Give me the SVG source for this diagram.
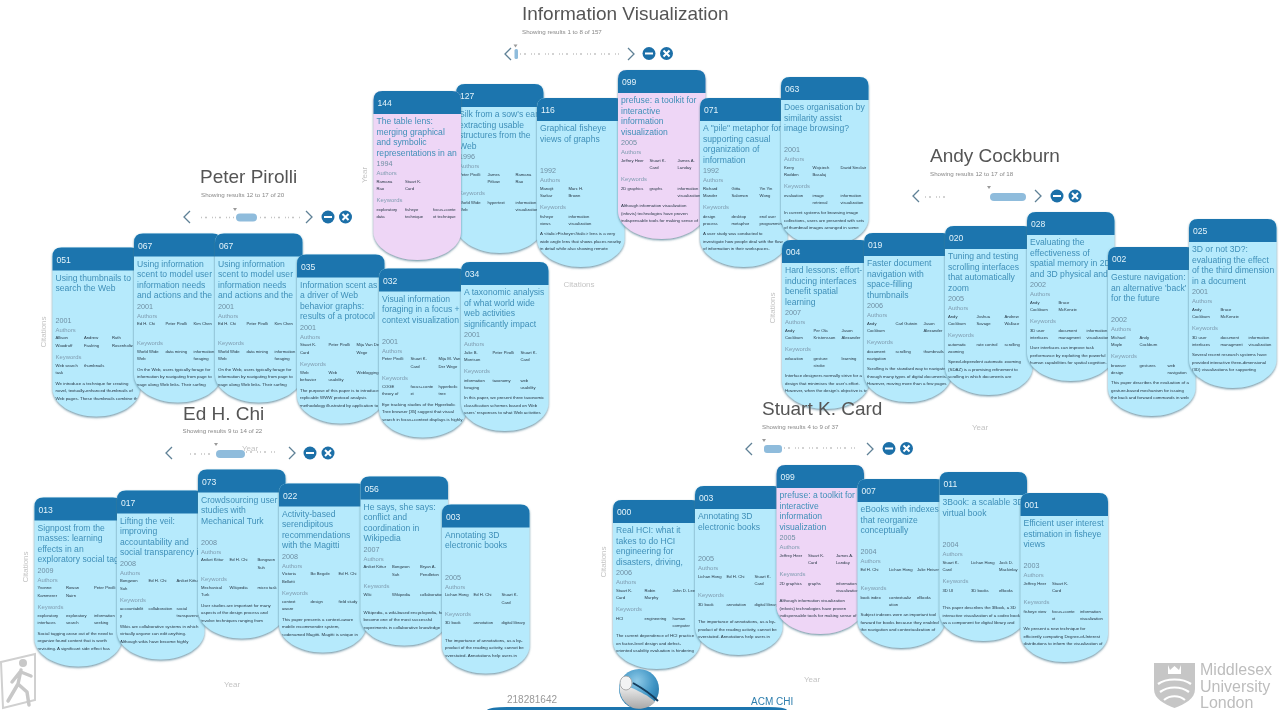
<svg xmlns="http://www.w3.org/2000/svg" width="1281" height="710" viewBox="0 0 1281 710">
<style>
text{font-family:"Liberation Sans",Arial,sans-serif}
.body{fill:#b6eafc;filter:url(#sh)}
.pink{fill:#eed6f6;filter:url(#sh)}
.head{fill:#1b75ae}
.id{fill:#e4f3fa;font-size:8.6px}
.t{fill:#3f8fb8;font-size:8.6px}
.y{fill:#6f8fa3;font-size:7.2px}
.l{fill:#7f9cb0;font-size:5.9px}
.c{fill:#263644;font-size:4.2px}
.a{fill:#263644;font-size:4.4px}
.title{fill:#555;font-size:19px}
.sub{fill:#888;font-size:6.2px}
.axis{fill:#c4c4c4;font-size:8px}
.chev{fill:none;stroke:#5f8196;stroke-width:1.3}
.track{fill:none;stroke:#c4c4c4;stroke-width:1.5;stroke-dasharray:1 3 2 5 1 2}
.thumb{fill:#8fbcdc}
.btn{fill:#1f6fa8}
.glyph{fill:none;stroke:#fff;stroke-width:2}
.tick{fill:#9a9a9a}
.logo{fill:#bdbdbd;font-size:16px}
</style>
<defs>
<filter id="sh" x="-10%" y="-10%" width="120%" height="120%"><feDropShadow dx="0" dy="1.2" stdDeviation="0.9" flood-color="#4d7a90" flood-opacity="0.85"/></filter>
<filter id="soft" filterUnits="userSpaceOnUse" x="0" y="0" width="1281" height="710"><feGaussianBlur stdDeviation="0.25"/></filter>
<path id="cs" d="M0 9Q0 0 9 0H78.5Q87.5 0 87.5 9V141C87.5 156 68 169 43.75 169C19.5 169 0 156 0 141Z"/>
<path id="hs" d="M0 9Q0 0 9 0H78.5Q87.5 0 87.5 9V23H0Z"/>
<clipPath id="cl"><use href="#cs"/></clipPath>
<radialGradient id="ball" cx="0.45" cy="0.3" r="0.8"><stop offset="0" stop-color="#8fcbe8"/><stop offset="0.55" stop-color="#3f94c4"/><stop offset="1" stop-color="#1b6a9c"/></radialGradient>
<linearGradient id="ballw" x1="0" y1="0" x2="0" y2="1"><stop offset="0" stop-color="#f4f4f4"/><stop offset="1" stop-color="#a8a8a8"/></linearGradient>
</defs>
<g filter="url(#soft)">
<g id="cards-information-visualization">
<g id="card-127" transform="translate(456,84)"><use href="#cs" class="body"/><use href="#hs" class="head"/><g clip-path="url(#cl)"><text class="id" x="4" y="15">127</text><text class="t" x="3" y="33">Silk from a sow's ear:</text><text class="t" x="3" y="43.5">extracting usable</text><text class="t" x="3" y="54">structures from the</text><text class="t" x="3" y="64.5">Web</text><text class="y" x="3" y="75">1996</text><text class="l" x="3" y="84">Authors</text><text class="c" x="3" y="91.5">Peter Pirolli</text><text class="c" x="31.5" y="91.5">James</text><text class="c" x="31.5" y="99">Pitkow</text><text class="c" x="59.5" y="91.5">Ramana</text><text class="c" x="59.5" y="99">Rao</text><text class="l" x="3" y="111">Keywords</text><text class="c" x="3" y="119.5">World Wide</text><text class="c" x="3" y="126.5">Web</text><text class="c" x="31.5" y="119.5">hypertext</text><text class="c" x="59.5" y="119.5">information</text><text class="c" x="59.5" y="126.5">visualization</text></g></g>
<g id="card-144" transform="translate(373.5,91)"><use href="#cs" class="pink"/><use href="#hs" class="head"/><g clip-path="url(#cl)"><text class="id" x="4" y="15">144</text><text class="t" x="3" y="33">The table lens:</text><text class="t" x="3" y="43.5">merging graphical</text><text class="t" x="3" y="54">and symbolic</text><text class="t" x="3" y="64.5">representations in an</text><text class="y" x="3" y="75">1994</text><text class="l" x="3" y="84">Authors</text><text class="c" x="3" y="91.5">Ramana</text><text class="c" x="3" y="99">Rao</text><text class="c" x="31.5" y="91.5">Stuart K.</text><text class="c" x="31.5" y="99">Card</text><text class="l" x="3" y="111">Keywords</text><text class="c" x="3" y="119.5">exploratory</text><text class="c" x="3" y="126.5">data</text><text class="c" x="31.5" y="119.5">fisheye</text><text class="c" x="31.5" y="126.5">technique</text><text class="c" x="59.5" y="119.5">focus+conte</text><text class="c" x="59.5" y="126.5">xt technique</text></g></g>
<g id="card-116" transform="translate(537,98)"><use href="#cs" class="body"/><use href="#hs" class="head"/><g clip-path="url(#cl)"><text class="id" x="4" y="15">116</text><text class="t" x="3" y="33">Graphical fisheye</text><text class="t" x="3" y="43.5">views of graphs</text><text class="y" x="3" y="75">1992</text><text class="l" x="3" y="84">Authors</text><text class="c" x="3" y="91.5">Manojit</text><text class="c" x="3" y="99">Sarkar</text><text class="c" x="31.5" y="91.5">Marc H.</text><text class="c" x="31.5" y="99">Brown</text><text class="l" x="3" y="111">Keywords</text><text class="c" x="3" y="119.5">fisheye</text><text class="c" x="3" y="126.5">views</text><text class="c" x="31.5" y="119.5">information</text><text class="c" x="31.5" y="126.5">visualization</text><text class="a" x="3" y="137">A &lt;italic&gt;Fisheye&lt;/italic&gt; lens is a very</text><text class="a" x="3" y="144.5">wide angle lens that shows places nearby</text><text class="a" x="3" y="152">in detail while also showing remote</text></g></g>
<g id="card-099" transform="translate(618,70)"><use href="#cs" class="pink"/><use href="#hs" class="head"/><g clip-path="url(#cl)"><text class="id" x="4" y="15">099</text><text class="t" x="3" y="33">prefuse: a toolkit for</text><text class="t" x="3" y="43.5">interactive</text><text class="t" x="3" y="54">information</text><text class="t" x="3" y="64.5">visualization</text><text class="y" x="3" y="75">2005</text><text class="l" x="3" y="84">Authors</text><text class="c" x="3" y="91.5">Jeffrey Heer</text><text class="c" x="31.5" y="91.5">Stuart K.</text><text class="c" x="31.5" y="99">Card</text><text class="c" x="59.5" y="91.5">James A.</text><text class="c" x="59.5" y="99">Landay</text><text class="l" x="3" y="111">Keywords</text><text class="c" x="3" y="119.5">2D graphics</text><text class="c" x="31.5" y="119.5">graphs</text><text class="c" x="59.5" y="119.5">information</text><text class="c" x="59.5" y="126.5">visualization</text><text class="a" x="3" y="137">Although information visualization</text><text class="a" x="3" y="144.5">(infovis) technologies have proven</text><text class="a" x="3" y="152">indispensable tools for making sense of</text></g></g>
<g id="card-071" transform="translate(700,98)"><use href="#cs" class="body"/><use href="#hs" class="head"/><g clip-path="url(#cl)"><text class="id" x="4" y="15">071</text><text class="t" x="3" y="33">A "pile" metaphor for</text><text class="t" x="3" y="43.5">supporting casual</text><text class="t" x="3" y="54">organization of</text><text class="t" x="3" y="64.5">information</text><text class="y" x="3" y="75">1992</text><text class="l" x="3" y="84">Authors</text><text class="c" x="3" y="91.5">Richard</text><text class="c" x="3" y="99">Mander</text><text class="c" x="31.5" y="91.5">Gitta</text><text class="c" x="31.5" y="99">Salomon</text><text class="c" x="59.5" y="91.5">Yin Yin</text><text class="c" x="59.5" y="99">Wong</text><text class="l" x="3" y="111">Keywords</text><text class="c" x="3" y="119.5">design</text><text class="c" x="3" y="126.5">process</text><text class="c" x="31.5" y="119.5">desktop</text><text class="c" x="31.5" y="126.5">metaphor</text><text class="c" x="59.5" y="119.5">end user</text><text class="c" x="59.5" y="126.5">programming</text><text class="a" x="3" y="137">A user study was conducted to</text><text class="a" x="3" y="144.5">investigate how people deal with the flow</text><text class="a" x="3" y="152">of information in their workspaces.</text></g></g>
<g id="card-063" transform="translate(781,77)"><use href="#cs" class="body"/><use href="#hs" class="head"/><g clip-path="url(#cl)"><text class="id" x="4" y="15">063</text><text class="t" x="3" y="33">Does organisation by</text><text class="t" x="3" y="43.5">similarity assist</text><text class="t" x="3" y="54">image browsing?</text><text class="y" x="3" y="75">2001</text><text class="l" x="3" y="84">Authors</text><text class="c" x="3" y="91.5">Kerry</text><text class="c" x="3" y="99">Rodden</text><text class="c" x="31.5" y="91.5">Wojciech</text><text class="c" x="31.5" y="99">Basalaj</text><text class="c" x="59.5" y="91.5">David Sinclair</text><text class="l" x="3" y="111">Keywords</text><text class="c" x="3" y="119.5">evaluation</text><text class="c" x="31.5" y="119.5">image</text><text class="c" x="31.5" y="126.5">retrieval</text><text class="c" x="59.5" y="119.5">information</text><text class="c" x="59.5" y="126.5">visualization</text><text class="a" x="3" y="137">In current systems for browsing image</text><text class="a" x="3" y="144.5">collections, users are presented with sets</text><text class="a" x="3" y="152">of thumbnail images arranged in some</text></g></g>
</g>
<g id="cards-peter-pirolli">
<g id="card-051" transform="translate(52.5,247.5)"><use href="#cs" class="body"/><use href="#hs" class="head"/><g clip-path="url(#cl)"><text class="id" x="4" y="15">051</text><text class="t" x="3" y="33">Using thumbnails to</text><text class="t" x="3" y="43.5">search the Web</text><text class="y" x="3" y="75">2001</text><text class="l" x="3" y="84">Authors</text><text class="c" x="3" y="91.5">Allison</text><text class="c" x="3" y="99">Woodruff</text><text class="c" x="31.5" y="91.5">Andrew</text><text class="c" x="31.5" y="99">Faulring</text><text class="c" x="59.5" y="91.5">Ruth</text><text class="c" x="59.5" y="99">Rosenholtz</text><text class="l" x="3" y="111">Keywords</text><text class="c" x="3" y="119.5">Web search</text><text class="c" x="3" y="126.5">task</text><text class="c" x="31.5" y="119.5">thumbnails</text><text class="a" x="3" y="137">We introduce a technique for creating</text><text class="a" x="3" y="144.5">novel, textually-enhanced thumbnails of</text><text class="a" x="3" y="152">Web pages. These thumbnails combine the</text></g></g>
<g id="card-067a" transform="translate(134,233.5)"><use href="#cs" class="body"/><use href="#hs" class="head"/><g clip-path="url(#cl)"><text class="id" x="4" y="15">067</text><text class="t" x="3" y="33">Using information</text><text class="t" x="3" y="43.5">scent to model user</text><text class="t" x="3" y="54">information needs</text><text class="t" x="3" y="64.5">and actions and the</text><text class="y" x="3" y="75">2001</text><text class="l" x="3" y="84">Authors</text><text class="c" x="3" y="91.5">Ed H. Chi</text><text class="c" x="31.5" y="91.5">Peter Pirolli</text><text class="c" x="59.5" y="91.5">Kim Chen</text><text class="l" x="3" y="111">Keywords</text><text class="c" x="3" y="119.5">World Wide</text><text class="c" x="3" y="126.5">Web</text><text class="c" x="31.5" y="119.5">data mining</text><text class="c" x="59.5" y="119.5">information</text><text class="c" x="59.5" y="126.5">foraging</text><text class="a" x="3" y="137">On the Web, users typically forage for</text><text class="a" x="3" y="144.5">information by navigating from page to</text><text class="a" x="3" y="152">page along Web links. Their surfing</text></g></g>
<g id="card-067b" transform="translate(215,233.5)"><use href="#cs" class="body"/><use href="#hs" class="head"/><g clip-path="url(#cl)"><text class="id" x="4" y="15">067</text><text class="t" x="3" y="33">Using information</text><text class="t" x="3" y="43.5">scent to model user</text><text class="t" x="3" y="54">information needs</text><text class="t" x="3" y="64.5">and actions and the</text><text class="y" x="3" y="75">2001</text><text class="l" x="3" y="84">Authors</text><text class="c" x="3" y="91.5">Ed H. Chi</text><text class="c" x="31.5" y="91.5">Peter Pirolli</text><text class="c" x="59.5" y="91.5">Kim Chen</text><text class="l" x="3" y="111">Keywords</text><text class="c" x="3" y="119.5">World Wide</text><text class="c" x="3" y="126.5">Web</text><text class="c" x="31.5" y="119.5">data mining</text><text class="c" x="59.5" y="119.5">information</text><text class="c" x="59.5" y="126.5">foraging</text><text class="a" x="3" y="137">On the Web, users typically forage for</text><text class="a" x="3" y="144.5">information by navigating from page to</text><text class="a" x="3" y="152">page along Web links. Their surfing</text></g></g>
<g id="card-035" transform="translate(297,254.5)"><use href="#cs" class="body"/><use href="#hs" class="head"/><g clip-path="url(#cl)"><text class="id" x="4" y="15">035</text><text class="t" x="3" y="33">Information scent as</text><text class="t" x="3" y="43.5">a driver of Web</text><text class="t" x="3" y="54">behavior graphs:</text><text class="t" x="3" y="64.5">results of a protocol</text><text class="y" x="3" y="75">2001</text><text class="l" x="3" y="84">Authors</text><text class="c" x="3" y="91.5">Stuart K.</text><text class="c" x="3" y="99">Card</text><text class="c" x="31.5" y="91.5">Peter Pirolli</text><text class="c" x="59.5" y="91.5">Mija Van Der</text><text class="c" x="59.5" y="99">Wege</text><text class="l" x="3" y="111">Keywords</text><text class="c" x="3" y="119.5">Web</text><text class="c" x="3" y="126.5">behavior</text><text class="c" x="31.5" y="119.5">Web</text><text class="c" x="31.5" y="126.5">usability</text><text class="c" x="59.5" y="119.5">Weblogging</text><text class="a" x="3" y="137">The purpose of this paper is to introduce</text><text class="a" x="3" y="144.5">replicable WWW protocol analysis</text><text class="a" x="3" y="152">methodology illustrated by application to</text></g></g>
<g id="card-032" transform="translate(379,268.5)"><use href="#cs" class="body"/><use href="#hs" class="head"/><g clip-path="url(#cl)"><text class="id" x="4" y="15">032</text><text class="t" x="3" y="33">Visual information</text><text class="t" x="3" y="43.5">foraging in a focus +</text><text class="t" x="3" y="54">context visualization</text><text class="y" x="3" y="75">2001</text><text class="l" x="3" y="84">Authors</text><text class="c" x="3" y="91.5">Peter Pirolli</text><text class="c" x="31.5" y="91.5">Stuart K.</text><text class="c" x="31.5" y="99">Card</text><text class="c" x="59.5" y="91.5">Mija M. Van</text><text class="c" x="59.5" y="99">Der Wege</text><text class="l" x="3" y="111">Keywords</text><text class="c" x="3" y="119.5">COGE</text><text class="c" x="3" y="126.5">theory of</text><text class="c" x="31.5" y="119.5">focus+conte</text><text class="c" x="31.5" y="126.5">xt</text><text class="c" x="59.5" y="119.5">hyperbolic</text><text class="c" x="59.5" y="126.5">tree</text><text class="a" x="3" y="137">Eye tracking studies of the Hyperbolic</text><text class="a" x="3" y="144.5">Tree browser [35] suggest that visual</text><text class="a" x="3" y="152">search in focus+context displays is highly</text></g></g>
<g id="card-034" transform="translate(461,262)"><use href="#cs" class="body"/><use href="#hs" class="head"/><g clip-path="url(#cl)"><text class="id" x="4" y="15">034</text><text class="t" x="3" y="33">A taxonomic analysis</text><text class="t" x="3" y="43.5">of what world wide</text><text class="t" x="3" y="54">web activities</text><text class="t" x="3" y="64.5">significantly impact</text><text class="y" x="3" y="75">2001</text><text class="l" x="3" y="84">Authors</text><text class="c" x="3" y="91.5">Julie B.</text><text class="c" x="3" y="99">Morrison</text><text class="c" x="31.5" y="91.5">Peter Pirolli</text><text class="c" x="59.5" y="91.5">Stuart K.</text><text class="c" x="59.5" y="99">Card</text><text class="l" x="3" y="111">Keywords</text><text class="c" x="3" y="119.5">information</text><text class="c" x="3" y="126.5">foraging</text><text class="c" x="31.5" y="119.5">taxonomy</text><text class="c" x="59.5" y="119.5">web</text><text class="c" x="59.5" y="126.5">usability</text><text class="a" x="3" y="137">In this paper, we present three taxonomic</text><text class="a" x="3" y="144.5">classification schemes based on Web</text><text class="a" x="3" y="152">users' responses to what Web activities</text></g></g>
</g>
<g id="cards-andy-cockburn">
<g id="card-004" transform="translate(782,240)"><use href="#cs" class="body"/><use href="#hs" class="head"/><g clip-path="url(#cl)"><text class="id" x="4" y="15">004</text><text class="t" x="3" y="33">Hard lessons: effort-</text><text class="t" x="3" y="43.5">inducing interfaces</text><text class="t" x="3" y="54">benefit spatial</text><text class="t" x="3" y="64.5">learning</text><text class="y" x="3" y="75">2007</text><text class="l" x="3" y="84">Authors</text><text class="c" x="3" y="91.5">Andy</text><text class="c" x="3" y="99">Cockburn</text><text class="c" x="31.5" y="91.5">Per Ola</text><text class="c" x="31.5" y="99">Kristensson</text><text class="c" x="59.5" y="91.5">Jason</text><text class="c" x="59.5" y="99">Alexander</text><text class="l" x="3" y="111">Keywords</text><text class="c" x="3" y="119.5">education</text><text class="c" x="31.5" y="119.5">gesture</text><text class="c" x="31.5" y="126.5">stroke</text><text class="c" x="59.5" y="119.5">learning</text><text class="a" x="3" y="137">Interface designers normally strive for a</text><text class="a" x="3" y="144.5">design that minimises the user's effort.</text><text class="a" x="3" y="152">However, when the design's objective is to</text></g></g>
<g id="card-019" transform="translate(864,233)"><use href="#cs" class="body"/><use href="#hs" class="head"/><g clip-path="url(#cl)"><text class="id" x="4" y="15">019</text><text class="t" x="3" y="33">Faster document</text><text class="t" x="3" y="43.5">navigation with</text><text class="t" x="3" y="54">space-filling</text><text class="t" x="3" y="64.5">thumbnails</text><text class="y" x="3" y="75">2006</text><text class="l" x="3" y="84">Authors</text><text class="c" x="3" y="91.5">Andy</text><text class="c" x="3" y="99">Cockburn</text><text class="c" x="31.5" y="91.5">Carl Gutwin</text><text class="c" x="59.5" y="91.5">Jason</text><text class="c" x="59.5" y="99">Alexander</text><text class="l" x="3" y="111">Keywords</text><text class="c" x="3" y="119.5">document</text><text class="c" x="3" y="126.5">navigation</text><text class="c" x="31.5" y="119.5">scrolling</text><text class="c" x="59.5" y="119.5">thumbnails</text><text class="a" x="3" y="137">Scrolling is the standard way to navigate</text><text class="a" x="3" y="144.5">through many types of digital documents.</text><text class="a" x="3" y="152">However, moving more than a few pages</text></g></g>
<g id="card-020" transform="translate(945,226)"><use href="#cs" class="body"/><use href="#hs" class="head"/><g clip-path="url(#cl)"><text class="id" x="4" y="15">020</text><text class="t" x="3" y="33">Tuning and testing</text><text class="t" x="3" y="43.5">scrolling interfaces</text><text class="t" x="3" y="54">that automatically</text><text class="t" x="3" y="64.5">zoom</text><text class="y" x="3" y="75">2005</text><text class="l" x="3" y="84">Authors</text><text class="c" x="3" y="91.5">Andy</text><text class="c" x="3" y="99">Cockburn</text><text class="c" x="31.5" y="91.5">Joshua</text><text class="c" x="31.5" y="99">Savage</text><text class="c" x="59.5" y="91.5">Andrew</text><text class="c" x="59.5" y="99">Wallace</text><text class="l" x="3" y="111">Keywords</text><text class="c" x="3" y="119.5">automatic</text><text class="c" x="3" y="126.5">zooming</text><text class="c" x="31.5" y="119.5">rate control</text><text class="c" x="59.5" y="119.5">scrolling</text><text class="a" x="3" y="137">Speed-dependent automatic zooming</text><text class="a" x="3" y="144.5">(SDAZ) is a promising refinement to</text><text class="a" x="3" y="152">scrolling in which documents are</text></g></g>
<g id="card-028" transform="translate(1027,212)"><use href="#cs" class="body"/><use href="#hs" class="head"/><g clip-path="url(#cl)"><text class="id" x="4" y="15">028</text><text class="t" x="3" y="33">Evaluating the</text><text class="t" x="3" y="43.5">effectiveness of</text><text class="t" x="3" y="54">spatial memory in 2D</text><text class="t" x="3" y="64.5">and 3D physical and</text><text class="y" x="3" y="75">2002</text><text class="l" x="3" y="84">Authors</text><text class="c" x="3" y="91.5">Andy</text><text class="c" x="3" y="99">Cockburn</text><text class="c" x="31.5" y="91.5">Bruce</text><text class="c" x="31.5" y="99">McKenzie</text><text class="l" x="3" y="111">Keywords</text><text class="c" x="3" y="119.5">3D user</text><text class="c" x="3" y="126.5">interfaces</text><text class="c" x="31.5" y="119.5">document</text><text class="c" x="31.5" y="126.5">managment</text><text class="c" x="59.5" y="119.5">information</text><text class="c" x="59.5" y="126.5">visualization</text><text class="a" x="3" y="137">User interfaces can improve task</text><text class="a" x="3" y="144.5">performance by exploiting the powerful</text><text class="a" x="3" y="152">human capabilities for spatial cognition.</text></g></g>
<g id="card-002" transform="translate(1108,247)"><use href="#cs" class="body"/><use href="#hs" class="head"/><g clip-path="url(#cl)"><text class="id" x="4" y="15">002</text><text class="t" x="3" y="33">Gesture navigation:</text><text class="t" x="3" y="43.5">an alternative 'back'</text><text class="t" x="3" y="54">for the future</text><text class="y" x="3" y="75">2002</text><text class="l" x="3" y="84">Authors</text><text class="c" x="3" y="91.5">Michael</text><text class="c" x="3" y="99">Moyle</text><text class="c" x="31.5" y="91.5">Andy</text><text class="c" x="31.5" y="99">Cockburn</text><text class="l" x="3" y="111">Keywords</text><text class="c" x="3" y="119.5">browser</text><text class="c" x="3" y="126.5">design</text><text class="c" x="31.5" y="119.5">gestures</text><text class="c" x="59.5" y="119.5">web</text><text class="c" x="59.5" y="126.5">navigation</text><text class="a" x="3" y="137">This paper describes the evaluation of a</text><text class="a" x="3" y="144.5">gesture-based mechanism for issuing</text><text class="a" x="3" y="152">the back and forward commands in web</text></g></g>
<g id="card-025" transform="translate(1189,219)"><use href="#cs" class="body"/><use href="#hs" class="head"/><g clip-path="url(#cl)"><text class="id" x="4" y="15">025</text><text class="t" x="3" y="33">3D or not 3D?:</text><text class="t" x="3" y="43.5">evaluating the effect</text><text class="t" x="3" y="54">of the third dimension</text><text class="t" x="3" y="64.5">in a document</text><text class="y" x="3" y="75">2001</text><text class="l" x="3" y="84">Authors</text><text class="c" x="3" y="91.5">Andy</text><text class="c" x="3" y="99">Cockburn</text><text class="c" x="31.5" y="91.5">Bruce</text><text class="c" x="31.5" y="99">McKenzie</text><text class="l" x="3" y="111">Keywords</text><text class="c" x="3" y="119.5">3D user</text><text class="c" x="3" y="126.5">interfaces</text><text class="c" x="31.5" y="119.5">document</text><text class="c" x="31.5" y="126.5">managment</text><text class="c" x="59.5" y="119.5">information</text><text class="c" x="59.5" y="126.5">visualization</text><text class="a" x="3" y="137">Several recent research systems have</text><text class="a" x="3" y="144.5">provided interactive three-dimensional</text><text class="a" x="3" y="152">(3D) visualizations for supporting</text></g></g>
</g>
<g id="cards-ed-chi">
<g id="card-013" transform="translate(34.5,497.5)"><use href="#cs" class="body"/><use href="#hs" class="head"/><g clip-path="url(#cl)"><text class="id" x="4" y="15">013</text><text class="t" x="3" y="33">Signpost from the</text><text class="t" x="3" y="43.5">masses: learning</text><text class="t" x="3" y="54">effects in an</text><text class="t" x="3" y="64.5">exploratory social tag</text><text class="y" x="3" y="75">2009</text><text class="l" x="3" y="84">Authors</text><text class="c" x="3" y="91.5">Yvonne</text><text class="c" x="3" y="99">Kammerer</text><text class="c" x="31.5" y="91.5">Rowan</text><text class="c" x="31.5" y="99">Nairn</text><text class="c" x="59.5" y="91.5">Peter Pirolli</text><text class="l" x="3" y="111">Keywords</text><text class="c" x="3" y="119.5">exploratory</text><text class="c" x="3" y="126.5">interfaces</text><text class="c" x="31.5" y="119.5">exploratory</text><text class="c" x="31.5" y="126.5">search</text><text class="c" x="59.5" y="119.5">information</text><text class="c" x="59.5" y="126.5">seeking</text><text class="a" x="3" y="137">Social tagging arose out of the need to</text><text class="a" x="3" y="144.5">organize found content that is worth</text><text class="a" x="3" y="152">revisiting. A significant side effect has</text></g></g>
<g id="card-017" transform="translate(117,490.5)"><use href="#cs" class="body"/><use href="#hs" class="head"/><g clip-path="url(#cl)"><text class="id" x="4" y="15">017</text><text class="t" x="3" y="33">Lifting the veil:</text><text class="t" x="3" y="43.5">improving</text><text class="t" x="3" y="54">accountability and</text><text class="t" x="3" y="64.5">social transparency in</text><text class="y" x="3" y="75">2008</text><text class="l" x="3" y="84">Authors</text><text class="c" x="3" y="91.5">Bongwon</text><text class="c" x="3" y="99">Suh</text><text class="c" x="31.5" y="91.5">Ed H. Chi</text><text class="c" x="59.5" y="91.5">Aniket Kittur</text><text class="l" x="3" y="111">Keywords</text><text class="c" x="3" y="119.5">accountabilit</text><text class="c" x="3" y="126.5">y</text><text class="c" x="31.5" y="119.5">collaboration</text><text class="c" x="59.5" y="119.5">social</text><text class="c" x="59.5" y="126.5">transparency</text><text class="a" x="3" y="137">Wikis are collaborative systems in which</text><text class="a" x="3" y="144.5">virtually anyone can edit anything.</text><text class="a" x="3" y="152">Although wikis have become highly</text></g></g>
<g id="card-073" transform="translate(198,469.5)"><use href="#cs" class="body"/><use href="#hs" class="head"/><g clip-path="url(#cl)"><text class="id" x="4" y="15">073</text><text class="t" x="3" y="33">Crowdsourcing user</text><text class="t" x="3" y="43.5">studies with</text><text class="t" x="3" y="54">Mechanical Turk</text><text class="y" x="3" y="75">2008</text><text class="l" x="3" y="84">Authors</text><text class="c" x="3" y="91.5">Aniket Kittur</text><text class="c" x="31.5" y="91.5">Ed H. Chi</text><text class="c" x="59.5" y="91.5">Bongwon</text><text class="c" x="59.5" y="99">Suh</text><text class="l" x="3" y="111">Keywords</text><text class="c" x="3" y="119.5">Mechanical</text><text class="c" x="3" y="126.5">Turk</text><text class="c" x="31.5" y="119.5">Wikipedia</text><text class="c" x="59.5" y="119.5">micro task</text><text class="a" x="3" y="137">User studies are important for many</text><text class="a" x="3" y="144.5">aspects of the design process and</text><text class="a" x="3" y="152">involve techniques ranging from</text></g></g>
<g id="card-022" transform="translate(279,483.5)"><use href="#cs" class="body"/><use href="#hs" class="head"/><g clip-path="url(#cl)"><text class="id" x="4" y="15">022</text><text class="t" x="3" y="33">Activity-based</text><text class="t" x="3" y="43.5">serendipitous</text><text class="t" x="3" y="54">recommendations</text><text class="t" x="3" y="64.5">with the Magitti</text><text class="y" x="3" y="75">2008</text><text class="l" x="3" y="84">Authors</text><text class="c" x="3" y="91.5">Victoria</text><text class="c" x="3" y="99">Bellotti</text><text class="c" x="31.5" y="91.5">Bo Begole</text><text class="c" x="59.5" y="91.5">Ed H. Chi</text><text class="l" x="3" y="111">Keywords</text><text class="c" x="3" y="119.5">context</text><text class="c" x="3" y="126.5">aware</text><text class="c" x="31.5" y="119.5">design</text><text class="c" x="59.5" y="119.5">field study</text><text class="a" x="3" y="137">This paper presents a context-aware</text><text class="a" x="3" y="144.5">mobile recommender system,</text><text class="a" x="3" y="152">codenamed Magitti. Magitti is unique in</text></g></g>
<g id="card-056" transform="translate(360.5,476.5)"><use href="#cs" class="body"/><use href="#hs" class="head"/><g clip-path="url(#cl)"><text class="id" x="4" y="15">056</text><text class="t" x="3" y="33">He says, she says:</text><text class="t" x="3" y="43.5">conflict and</text><text class="t" x="3" y="54">coordination in</text><text class="t" x="3" y="64.5">Wikipedia</text><text class="y" x="3" y="75">2007</text><text class="l" x="3" y="84">Authors</text><text class="c" x="3" y="91.5">Aniket Kittur</text><text class="c" x="31.5" y="91.5">Bongwon</text><text class="c" x="31.5" y="99">Suh</text><text class="c" x="59.5" y="91.5">Bryan A.</text><text class="c" x="59.5" y="99">Pendleton</text><text class="l" x="3" y="111">Keywords</text><text class="c" x="3" y="119.5">Wiki</text><text class="c" x="31.5" y="119.5">Wikipedia</text><text class="c" x="59.5" y="119.5">collaboration</text><text class="a" x="3" y="137">Wikipedia, a wiki-based encyclopedia, has</text><text class="a" x="3" y="144.5">become one of the most successful</text><text class="a" x="3" y="152">experiments in collaborative knowledge</text></g></g>
<g id="card-003a" transform="translate(442,504.5)"><use href="#cs" class="body"/><use href="#hs" class="head"/><g clip-path="url(#cl)"><text class="id" x="4" y="15">003</text><text class="t" x="3" y="33">Annotating 3D</text><text class="t" x="3" y="43.5">electronic books</text><text class="y" x="3" y="75">2005</text><text class="l" x="3" y="84">Authors</text><text class="c" x="3" y="91.5">Lichan Hong</text><text class="c" x="31.5" y="91.5">Ed H. Chi</text><text class="c" x="59.5" y="91.5">Stuart K.</text><text class="c" x="59.5" y="99">Card</text><text class="l" x="3" y="111">Keywords</text><text class="c" x="3" y="119.5">3D book</text><text class="c" x="31.5" y="119.5">annotation</text><text class="c" x="59.5" y="119.5">digital library</text><text class="a" x="3" y="137">The importance of annotations, as a by-</text><text class="a" x="3" y="144.5">product of the reading activity, cannot be</text><text class="a" x="3" y="152">overstated. Annotations help users in</text></g></g>
</g>
<g id="cards-stuart-card">
<g id="card-000" transform="translate(613,500)"><use href="#cs" class="body"/><use href="#hs" class="head"/><g clip-path="url(#cl)"><text class="id" x="4" y="15">000</text><text class="t" x="3" y="33">Real HCI: what it</text><text class="t" x="3" y="43.5">takes to do HCI</text><text class="t" x="3" y="54">engineering for</text><text class="t" x="3" y="64.5">disasters, driving,</text><text class="y" x="3" y="75">2006</text><text class="l" x="3" y="84">Authors</text><text class="c" x="3" y="91.5">Stuart K.</text><text class="c" x="3" y="99">Card</text><text class="c" x="31.5" y="91.5">Robin</text><text class="c" x="31.5" y="99">Murphy</text><text class="c" x="59.5" y="91.5">John D. Lee</text><text class="l" x="3" y="111">Keywords</text><text class="c" x="3" y="119.5">HCI</text><text class="c" x="31.5" y="119.5">engineering</text><text class="c" x="59.5" y="119.5">human</text><text class="c" x="59.5" y="126.5">computer</text><text class="a" x="3" y="137">The current dependence of HCI practice</text><text class="a" x="3" y="144.5">on factor-level design and defect-</text><text class="a" x="3" y="152">oriented usability evaluation is hindering</text></g></g>
<g id="card-003b" transform="translate(695,486)"><use href="#cs" class="body"/><use href="#hs" class="head"/><g clip-path="url(#cl)"><text class="id" x="4" y="15">003</text><text class="t" x="3" y="33">Annotating 3D</text><text class="t" x="3" y="43.5">electronic books</text><text class="y" x="3" y="75">2005</text><text class="l" x="3" y="84">Authors</text><text class="c" x="3" y="91.5">Lichan Hong</text><text class="c" x="31.5" y="91.5">Ed H. Chi</text><text class="c" x="59.5" y="91.5">Stuart K.</text><text class="c" x="59.5" y="99">Card</text><text class="l" x="3" y="111">Keywords</text><text class="c" x="3" y="119.5">3D book</text><text class="c" x="31.5" y="119.5">annotation</text><text class="c" x="59.5" y="119.5">digital library</text><text class="a" x="3" y="137">The importance of annotations, as a by-</text><text class="a" x="3" y="144.5">product of the reading activity, cannot be</text><text class="a" x="3" y="152">overstated. Annotations help users in</text></g></g>
<g id="card-099b" transform="translate(776.5,465)"><use href="#cs" class="pink"/><use href="#hs" class="head"/><g clip-path="url(#cl)"><text class="id" x="4" y="15">099</text><text class="t" x="3" y="33">prefuse: a toolkit for</text><text class="t" x="3" y="43.5">interactive</text><text class="t" x="3" y="54">information</text><text class="t" x="3" y="64.5">visualization</text><text class="y" x="3" y="75">2005</text><text class="l" x="3" y="84">Authors</text><text class="c" x="3" y="91.5">Jeffrey Heer</text><text class="c" x="31.5" y="91.5">Stuart K.</text><text class="c" x="31.5" y="99">Card</text><text class="c" x="59.5" y="91.5">James A.</text><text class="c" x="59.5" y="99">Landay</text><text class="l" x="3" y="111">Keywords</text><text class="c" x="3" y="119.5">2D graphics</text><text class="c" x="31.5" y="119.5">graphs</text><text class="c" x="59.5" y="119.5">information</text><text class="c" x="59.5" y="126.5">visualization</text><text class="a" x="3" y="137">Although information visualization</text><text class="a" x="3" y="144.5">(infovis) technologies have proven</text><text class="a" x="3" y="152">indispensable tools for making sense of</text></g></g>
<g id="card-007" transform="translate(857.5,479)"><use href="#cs" class="body"/><use href="#hs" class="head"/><g clip-path="url(#cl)"><text class="id" x="4" y="15">007</text><text class="t" x="3" y="33">eBooks with indexes</text><text class="t" x="3" y="43.5">that reorganize</text><text class="t" x="3" y="54">conceptually</text><text class="y" x="3" y="75">2004</text><text class="l" x="3" y="84">Authors</text><text class="c" x="3" y="91.5">Ed H. Chi</text><text class="c" x="31.5" y="91.5">Lichan Hong</text><text class="c" x="59.5" y="91.5">Julie Heiser</text><text class="l" x="3" y="111">Keywords</text><text class="c" x="3" y="119.5">book index</text><text class="c" x="31.5" y="119.5">contextualiz</text><text class="c" x="31.5" y="126.5">ation</text><text class="c" x="59.5" y="119.5">eBooks</text><text class="a" x="3" y="137">Subject indexes were an important tool</text><text class="a" x="3" y="144.5">forward for books because they enabled</text><text class="a" x="3" y="152">the navigation and contextualization of</text></g></g>
<g id="card-011" transform="translate(939.5,472)"><use href="#cs" class="body"/><use href="#hs" class="head"/><g clip-path="url(#cl)"><text class="id" x="4" y="15">011</text><text class="t" x="3" y="33">3Book: a scalable 3D</text><text class="t" x="3" y="43.5">virtual book</text><text class="y" x="3" y="75">2004</text><text class="l" x="3" y="84">Authors</text><text class="c" x="3" y="91.5">Stuart K.</text><text class="c" x="3" y="99">Card</text><text class="c" x="31.5" y="91.5">Lichan Hong</text><text class="c" x="59.5" y="91.5">Jock D.</text><text class="c" x="59.5" y="99">Mackinlay</text><text class="l" x="3" y="111">Keywords</text><text class="c" x="3" y="119.5">3D UI</text><text class="c" x="31.5" y="119.5">3D books</text><text class="c" x="59.5" y="119.5">eBooks</text><text class="a" x="3" y="137">This paper describes the 3Book, a 3D</text><text class="a" x="3" y="144.5">interactive visualization of a codex book</text><text class="a" x="3" y="152">as a component for digital library and</text></g></g>
<g id="card-001" transform="translate(1020.5,493)"><use href="#cs" class="body"/><use href="#hs" class="head"/><g clip-path="url(#cl)"><text class="id" x="4" y="15">001</text><text class="t" x="3" y="33">Efficient user interest</text><text class="t" x="3" y="43.5">estimation in fisheye</text><text class="t" x="3" y="54">views</text><text class="y" x="3" y="75">2003</text><text class="l" x="3" y="84">Authors</text><text class="c" x="3" y="91.5">Jeffrey Heer</text><text class="c" x="31.5" y="91.5">Stuart K.</text><text class="c" x="31.5" y="99">Card</text><text class="l" x="3" y="111">Keywords</text><text class="c" x="3" y="119.5">fisheye view</text><text class="c" x="31.5" y="119.5">focus+conte</text><text class="c" x="31.5" y="126.5">xt</text><text class="c" x="59.5" y="119.5">information</text><text class="c" x="59.5" y="126.5">visualization</text><text class="a" x="3" y="137">We present a new technique for</text><text class="a" x="3" y="144.5">efficiently computing Degree-of-Interest</text><text class="a" x="3" y="152">distributions to inform the visualization of</text></g></g>
</g>
<g id="connectors"/>
<g id="headers">
<text class="title" x="522" y="20">Information Visualization</text><text class="sub" x="522" y="34">Showing results 1 to 8 of 157</text>
<text class="title" x="200" y="183">Peter Pirolli</text><text class="sub" x="201" y="197">Showing results 12 to 17 of 20</text>
<text class="title" x="930" y="162">Andy Cockburn</text><text class="sub" x="930" y="175.5">Showing results 12 to 17 of 18</text>
<text class="title" x="183" y="420">Ed H. Chi</text><text class="sub" x="182.5" y="433">Showing results 9 to 14 of 22</text>
<text class="title" x="762" y="415">Stuart K. Card</text><text class="sub" x="762" y="429">Showing results 4 to 9 of 37</text>
</g>
<g id="axis-labels">
<text class="axis" transform="translate(367,175) rotate(-90)" text-anchor="middle">Year</text>
<text class="axis" x="579" y="287" text-anchor="middle">Citations</text>
<text class="axis" transform="translate(46,332) rotate(-90)" text-anchor="middle">Citations</text>
<text class="axis" x="250" y="451" text-anchor="middle">Year</text>
<text class="axis" transform="translate(775,308) rotate(-90)" text-anchor="middle">Citations</text>
<text class="axis" x="980" y="430" text-anchor="middle">Year</text>
<text class="axis" transform="translate(28,567) rotate(-90)" text-anchor="middle">Citations</text>
<text class="axis" x="232" y="687" text-anchor="middle">Year</text>
<text class="axis" transform="translate(606,562) rotate(-90)" text-anchor="middle">Citations</text>
<text class="axis" x="812" y="682" text-anchor="middle">Year</text>
</g>
<g id="slider-information-visualization">
<path class="chev" d="M511 48L505 54L511 60M628 48L634 54L628 60"/>
<path class="track" d="M520 54H622"/><rect class="thumb" x="514.5" y="49" width="3.5" height="10" rx="1.5"/><path class="tick" d="M513.5 44.500h4l-2 3z"/>
<circle class="btn" cx="649" cy="53.500" r="6.500"/><path class="glyph" d="M645 53.500H653"/>
<circle class="btn" cx="666.500" cy="53.500" r="6.500"/><path class="glyph" d="M663.500 50.500L669.500 56.500M669.500 50.500L663.500 56.500"/>
</g>
<g id="slider-peter-pirolli">
<path class="chev" d="M190 211L184 217L190 223M306 211L312 217L306 223"/>
<path class="track" d="M201 217.500H234M260 217.500H300"/><rect class="thumb" x="236" y="213.500" width="21" height="8" rx="4"/><path class="tick" d="M233 208h4l-2 3z"/>
<circle class="btn" cx="328" cy="217" r="6.500"/><path class="glyph" d="M324 217H332"/>
<circle class="btn" cx="345.500" cy="217" r="6.500"/><path class="glyph" d="M342.500 214L348.500 220M348.500 214L342.500 220"/>
</g>
<g id="slider-andy-cockburn">
<path class="chev" d="M919 190L913 196L919 202M1035 190L1041 196L1035 202"/>
<path class="track" d="M925 197H945"/><rect class="thumb" x="990" y="193" width="36" height="8" rx="4"/><path class="tick" d="M987 186h4l-2 3z"/>
<circle class="btn" cx="1057" cy="196" r="6.500"/><path class="glyph" d="M1053 196H1061"/>
<circle class="btn" cx="1075" cy="196" r="6.500"/><path class="glyph" d="M1072 193L1078 199M1078 193L1072 199"/>
</g>
<g id="slider-ed-chi">
<path class="chev" d="M172 447L166 453L172 459M289 447L295 453L289 459"/>
<path class="track" d="M190 454H214M246 452H278"/><rect class="thumb" x="216" y="450" width="29" height="8" rx="4"/><path class="tick" d="M214 443h4l-2 3z"/>
<circle class="btn" cx="310" cy="453" r="6.500"/><path class="glyph" d="M306 453H314"/>
<circle class="btn" cx="328" cy="453" r="6.500"/><path class="glyph" d="M325 450L331 456M331 450L325 456"/>
</g>
<g id="slider-stuart-card">
<path class="chev" d="M752 443L746 449L752 455M867 443L873 449L867 455"/>
<path class="track" d="M784 448H858"/><rect class="thumb" x="764" y="445" width="18" height="8" rx="3"/><path class="tick" d="M762 439h4l-2 3z"/>
<circle class="btn" cx="889" cy="448.500" r="6.500"/><path class="glyph" d="M885 448.500H893"/>
<circle class="btn" cx="906.500" cy="448.500" r="6.500"/><path class="glyph" d="M903.500 445.500L909.500 451.500M909.500 445.500L903.500 451.500"/>
</g>
<g id="footer">
<path fill="#1b75ae" d="M487 710Q490 707 510 707H768Q785 707 787 710Z"/>
<text x="507" y="702.500" font-size="10" fill="#999">218281642</text>
<text x="751" y="704.500" font-size="10" fill="#2f7fae">ACM CHI</text>
</g>
<g id="ball">
<circle cx="639" cy="689" r="20" fill="url(#ball)"/>
<path fill="url(#ballw)" d="M620 684C628 685 650 696 655 702C650 708 640 710 633 708C624 704 618 695 620 684Z"/>
<path fill="none" stroke="#123c5c" stroke-width="2" d="M633 683C642 688 651 694 658 701"/>
<ellipse cx="626" cy="683" rx="6" ry="7" fill="#f3f3f3" stroke="#9a9a9a" stroke-width="0.8"/>
</g>
<g id="exit-icon">
<path fill="none" stroke="#d0d0d0" stroke-width="2" d="M1 662L35 654V700L3 708Z"/>
<circle cx="23" cy="663" r="4" fill="#c8c8c8"/>
<path fill="none" stroke="#c8c8c8" stroke-width="3.500" stroke-linecap="round" stroke-linejoin="round" d="M21 670L18 684L8 701M18 684L27 692L29 705M20 672L12 682M21 672L31 676"/>
</g>
<g id="university-logo">
<path fill="#c6c6c6" d="M1154 663H1195V689C1195 699 1185 704 1174.500 708C1164 704 1154 699 1154 689Z"/>
<path fill="#fff" d="M1168 665L1170 670L1174.500 666L1179 670L1181 665V674H1168Z"/>
<path fill="none" stroke="#fff" stroke-width="2.200" d="M1158 684C1166 678 1183 678 1191 684M1160 692C1168 686 1181 686 1189 692M1164 700C1170 695 1179 695 1185 700"/>
<text class="logo" x="1200" y="675">Middlesex</text>
<text class="logo" x="1200" y="692">University</text>
<text class="logo" x="1200" y="708">London</text>
</g>
</g>
</svg>
